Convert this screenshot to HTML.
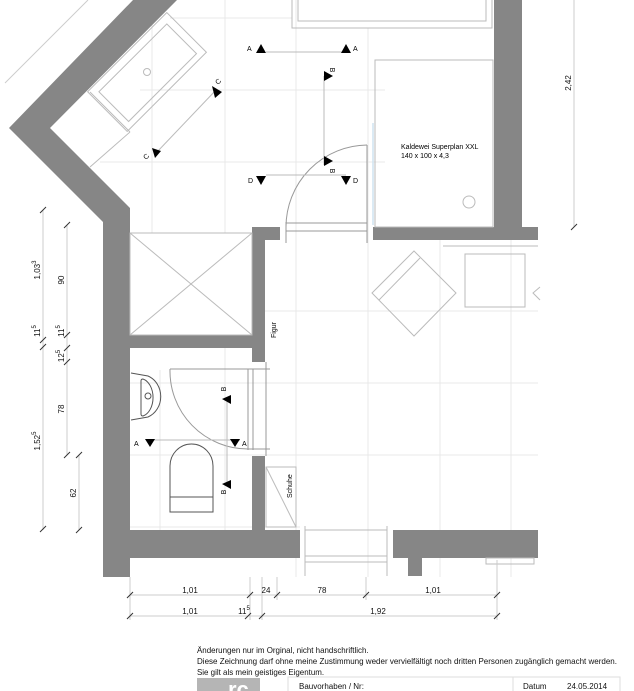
<!DOCTYPE html>
<html><head><meta charset="utf-8"><style>
html,body{margin:0;padding:0;background:#fff;}
svg{display:block;font-family:"Liberation Sans",sans-serif;}
</style></head><body>
<svg width="634" height="691" viewBox="0 0 634 691" xmlns="http://www.w3.org/2000/svg">
<g stroke="#e8e8e8" stroke-width="1" fill="none">
<line x1="152" y1="0" x2="152" y2="233"/>
<line x1="225" y1="0" x2="225" y2="233"/>
<line x1="296" y1="0" x2="296" y2="577"/>
<line x1="368" y1="28" x2="368" y2="577"/>
<line x1="440" y1="240" x2="440" y2="577"/>
<line x1="511" y1="240" x2="511" y2="577"/>
<line x1="170" y1="18" x2="292" y2="18"/>
<line x1="140" y1="90" x2="385" y2="90"/>
<line x1="100" y1="162" x2="385" y2="162"/>
<line x1="265" y1="311" x2="538" y2="311"/>
<line x1="130" y1="383" x2="538" y2="383"/>
<line x1="130" y1="455" x2="538" y2="455"/>
<line x1="130" y1="527" x2="300" y2="527"/>
<line x1="160" y1="370" x2="160" y2="530"/>
<line x1="225" y1="348" x2="225" y2="530"/>
</g>
<g fill="#868686">
<polygon points="133,0 177,0 50,128 130,208 130,577 103,577 103,222 9,128"/>
<rect x="130" y="530" width="170" height="28"/>
<rect x="130" y="335" width="135" height="13"/>
<rect x="252" y="227" width="13" height="135"/>
<rect x="252" y="227" width="28" height="13"/>
<rect x="252" y="456" width="13" height="76"/>
<rect x="393" y="530" width="145" height="28"/>
<rect x="408" y="556" width="14" height="20"/>
<rect x="494" y="0" width="28" height="240"/>
<rect x="373" y="227" width="165" height="13"/>
</g>
<g stroke="#bbb" stroke-width="1" fill="none">
<rect x="292" y="-2" width="200" height="30"/>
<rect x="298" y="-2" width="188" height="23"/>
<g transform="translate(147,72) rotate(-45)">
<rect x="-56" y="-28" width="112" height="56"/>
<rect x="-48" y="-20" width="96" height="42"/>
<circle cx="0" cy="0" r="3.5"/>
</g>
<line x1="90" y1="92" x2="130" y2="132"/>
<line x1="130" y1="132" x2="90" y2="167"/>
<rect x="375" y="60" width="118" height="167"/>
<circle cx="469" cy="202" r="6"/>
<rect x="130" y="233" width="122" height="102"/>
<line x1="130" y1="233" x2="252" y2="335"/>
<line x1="252" y1="233" x2="130" y2="335"/>
<polygon points="414,251 456,293 414,336 372,293"/>
<line x1="379" y1="300" x2="420" y2="258"/>
<rect x="465" y="254" width="60" height="53"/>
<polyline points="540,287 533,293 540,300"/>
<line x1="443" y1="246" x2="538" y2="246"/>
<rect x="266" y="467" width="30" height="60"/>
<line x1="266" y1="467" x2="296" y2="527"/>
<line x1="305" y1="530" x2="387" y2="530"/>
<line x1="305" y1="556" x2="387" y2="556"/>
<line x1="305" y1="562" x2="387" y2="562"/>
<line x1="305" y1="526" x2="305" y2="576"/>
<line x1="387" y1="526" x2="387" y2="576"/>
<rect x="486" y="558" width="48" height="6"/>
</g>
<g stroke="#999" stroke-width="1" fill="none">
<path d="M367,145 A82,82 0 0 0 286,227"/>
<line x1="367" y1="145" x2="367" y2="243"/>
<line x1="286" y1="222" x2="286" y2="243"/>
<line x1="286" y1="223" x2="367" y2="223"/>
<line x1="286" y1="231" x2="367" y2="231"/>
<path d="M170,369 A78,78 0 0 0 248,449"/>
<line x1="170" y1="369" x2="270" y2="369"/>
<line x1="248" y1="369" x2="248" y2="450"/>
<line x1="253" y1="369" x2="253" y2="450"/>
<line x1="266" y1="362" x2="266" y2="456"/>
<line x1="248" y1="449" x2="270" y2="449"/>
</g>
<line x1="373" y1="123" x2="373" y2="225" stroke="#cfe3f0" stroke-width="1.5"/>
<g stroke="#555" stroke-width="1" fill="none">
<path d="M131,373 L148,376 A20,22 0 0 1 148,417 L131,420"/>
<path d="M143,379 A13,19 0 0 1 143,416 Q141,416 141,414 L141,381 Q141,379 143,379"/>
<circle cx="148" cy="396" r="3"/>
<path d="M170,512 L170,466 A21.5,22 0 0 1 213,466 L213,512 Z"/>
<line x1="170" y1="497" x2="213" y2="497"/>
</g>
<g stroke="#bbb" stroke-width="1">
<line x1="266" y1="52" x2="346" y2="52"/>
<line x1="324" y1="76" x2="324" y2="165"/>
<line x1="266" y1="175" x2="346" y2="175"/>
<line x1="157" y1="152" x2="216" y2="90"/>
<line x1="149" y1="440" x2="240" y2="440"/>
<line x1="227" y1="398" x2="227" y2="482"/>
</g>
<g fill="#000">
<polygon points="256,53 261,44 266,53"/>
<polygon points="341,53 346,44 351,53"/>
<polygon points="324,71 333,76 324,81"/>
<polygon points="324,156 333,161 324,166"/>
<polygon points="256,176 261,185 266,176"/>
<polygon points="341,176 346,185 351,176"/>
<polygon points="212,86 222,92 215,98"/>
<polygon points="152,148 161,151 155,158"/>
<polygon points="145,439 150,447 155,439"/>
<polygon points="230,439 235,447 240,439"/>
<polygon points="231,395 222,399 231,404"/>
<polygon points="231,480 222,484 231,489"/>
</g>
<g font-size="7" fill="#000">
<text x="247" y="51">A</text><text x="353" y="51">A</text>
<text x="248" y="183">D</text><text x="353" y="183">D</text>
<text x="134" y="446">A</text><text x="242" y="446">A</text>
<text transform="translate(330,70) rotate(90)" text-anchor="middle">B</text>
<text transform="translate(330,171) rotate(90)" text-anchor="middle">B</text>
<text transform="translate(226,389) rotate(-90)" text-anchor="middle">B</text>
<text transform="translate(226,492) rotate(-90)" text-anchor="middle">B</text>
<text transform="translate(218,85) rotate(-45)">C</text>
<text transform="translate(146,160) rotate(-45)">C</text>
<text x="401" y="149">Kaldewei Superplan XXL</text>
<text x="401" y="158">140 x 100 x 4,3</text>
<text transform="translate(276,338) rotate(-90)">Figur</text>
<text transform="translate(292,498) rotate(-90)">Schuhe</text>
</g>
<g stroke="#ccc" stroke-width="1">
<line x1="43" y1="210" x2="43" y2="530"/>
<line x1="67" y1="225" x2="67" y2="455"/>
<line x1="79" y1="455" x2="79" y2="530"/>
<line x1="574" y1="0" x2="574" y2="227"/>
<line x1="5" y1="83" x2="88" y2="0"/>
<line x1="130" y1="577" x2="130" y2="620"/>
<line x1="250" y1="577" x2="250" y2="620"/>
<line x1="262" y1="577" x2="262" y2="620"/>
<line x1="277" y1="577" x2="277" y2="600"/>
<line x1="366" y1="577" x2="366" y2="600"/>
<line x1="497" y1="560" x2="497" y2="620"/>
<line x1="130" y1="595" x2="497" y2="595"/>
<line x1="130" y1="616" x2="497" y2="616"/>
</g>
<g stroke="#333" stroke-width="1">
<line x1="40" y1="213" x2="46" y2="207"/><line x1="40" y1="343" x2="46" y2="337"/><line x1="40" y1="350" x2="46" y2="344"/><line x1="40" y1="532" x2="46" y2="526"/>
<line x1="64" y1="228" x2="70" y2="222"/><line x1="64" y1="338" x2="70" y2="332"/><line x1="64" y1="351" x2="70" y2="345"/><line x1="64" y1="365" x2="70" y2="359"/><line x1="64" y1="458" x2="70" y2="452"/>
<line x1="76" y1="458" x2="82" y2="452"/><line x1="76" y1="533" x2="82" y2="527"/>
<line x1="571" y1="230" x2="577" y2="224"/>
<line x1="127" y1="598" x2="133" y2="592"/><line x1="247" y1="598" x2="253" y2="592"/><line x1="274" y1="598" x2="280" y2="592"/><line x1="363" y1="598" x2="369" y2="592"/><line x1="494" y1="598" x2="500" y2="592"/>
<line x1="127" y1="619" x2="133" y2="613"/><line x1="245" y1="619" x2="251" y2="613"/><line x1="259" y1="619" x2="265" y2="613"/><line x1="494" y1="619" x2="500" y2="613"/>
</g>
<g font-size="8" fill="#111">
<text transform="translate(40,270) rotate(-90)" text-anchor="middle">1,03<tspan font-size="6" dy="-4">3</tspan></text>
<text transform="translate(64,280) rotate(-90)" text-anchor="middle">90</text>
<text transform="translate(40,331) rotate(-90)" text-anchor="middle">11<tspan font-size="6" dy="-4">5</tspan></text>
<text transform="translate(64,331) rotate(-90)" text-anchor="middle">11<tspan font-size="6" dy="-4">5</tspan></text>
<text transform="translate(64,356) rotate(-90)" text-anchor="middle">12<tspan font-size="6" dy="-4">5</tspan></text>
<text transform="translate(64,409) rotate(-90)" text-anchor="middle">78</text>
<text transform="translate(40,441) rotate(-90)" text-anchor="middle">1,52<tspan font-size="6" dy="-4">5</tspan></text>
<text transform="translate(76,493) rotate(-90)" text-anchor="middle">62</text>
<text transform="translate(571,83) rotate(-90)" text-anchor="middle">2,42</text>
<text x="190" y="593" text-anchor="middle">1,01</text>
<text x="266" y="593" text-anchor="middle">24</text>
<text x="322" y="593" text-anchor="middle">78</text>
<text x="433" y="593" text-anchor="middle">1,01</text>
<text x="190" y="614" text-anchor="middle">1,01</text>
<text x="244" y="614" text-anchor="middle">11<tspan font-size="6" dy="-4">5</tspan></text>
<text x="378" y="614" text-anchor="middle">1,92</text>
</g>
<g font-size="7.95" fill="#111">
<text x="197" y="653">Änderungen nur im Orginal, nicht handschriftlich.</text>
<text x="197" y="664" textLength="420" lengthAdjust="spacingAndGlyphs">Diese Zeichnung darf ohne meine Zustimmung weder vervielfältigt noch dritten Personen zugänglich gemacht werden.</text>
<text x="197" y="675">Sie gilt als mein geistiges Eigentum.</text>
</g>
<rect x="197" y="678" width="63" height="13" fill="#b5b5b5"/>
<text x="228" y="697" font-size="22" font-weight="bold" fill="#fff">rc</text>
<g stroke="#ddd" fill="none"><rect x="288" y="677" width="332" height="20"/><line x1="513" y1="677" x2="513" y2="691"/></g>
<g font-size="8" fill="#111">
<text x="299" y="689">Bauvorhaben / Nr:</text>
<text x="523" y="689">Datum</text>
<text x="567" y="689">24.05.2014</text>
</g>
</svg>
</body></html>
